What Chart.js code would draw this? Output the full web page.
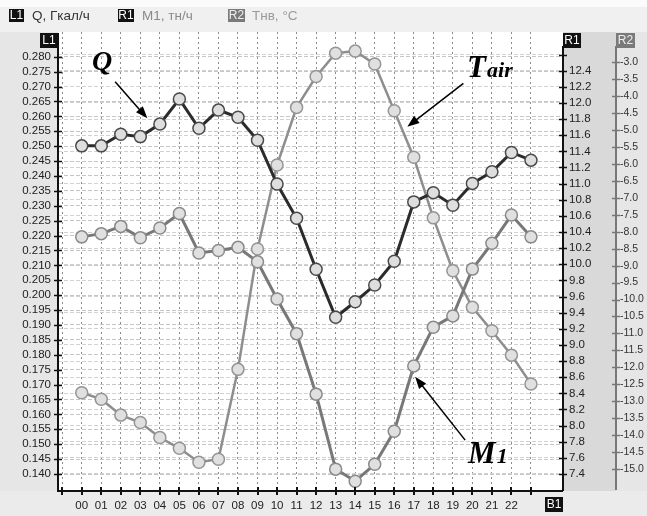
<!DOCTYPE html>
<html>
<head>
<meta charset="utf-8">
<title>Q, M1, Тнв</title>
<script src="https://cdn.jsdelivr.net/npm/chart.js@4.4.0/dist/chart.umd.min.js"></script>
<style>
  html, body { margin: 0; padding: 0; background: #ececec; }
  canvas { display: block; }
</style>
</head>
<body>
<canvas id="trendChart" width="647" height="516"></canvas>
<script>
// Hours of the day
const hours = ['00', '01', '02', '03', '04', '05', '06', '07', '08', '09', '10', '11',
               '12', '13', '14', '15', '16', '17', '18', '19', '20', '21', '22', '23'];

// Heat load Q, Gcal/h (axis L1)
const qValues = [0.2501, 0.2501, 0.2540, 0.2532, 0.2574, 0.2658, 0.2560, 0.2621, 0.2597, 0.2520, 0.2373, 0.2258,
                 0.2087, 0.1926, 0.1978, 0.2034, 0.2114, 0.2313, 0.2344, 0.2302, 0.2375, 0.2414, 0.2479, 0.2453];

// Flow M1, t/h (axis R1)
const m1Values = [10.34, 10.38, 10.47, 10.33, 10.45, 10.63, 10.14, 10.17, 10.21, 10.03, 9.57, 9.14,
                  8.39, 7.46, 7.31, 7.52, 7.93, 8.74, 9.22, 9.36, 9.94, 10.26, 10.61, 10.34];

// Outdoor air temperature, °C (axis R2)
const tairValues = [-12.75, -12.94, -13.41, -13.63, -14.07, -14.39, -14.80, -14.71, -12.06, -8.51, -6.03, -4.33,
                    -3.42, -2.73, -2.67, -3.05, -4.43, -5.80, -7.59, -9.15, -10.23, -10.92, -11.64, -12.49];

// Tick values for the value axes
const l1Ticks = [0.140, 0.145, 0.150, 0.155, 0.160, 0.165, 0.170, 0.175, 0.180, 0.185, 0.190, 0.195, 0.200, 0.205, 0.210,
                 0.215, 0.220, 0.225, 0.230, 0.235, 0.240, 0.245, 0.250, 0.255, 0.260, 0.265, 0.270, 0.275, 0.280];
const r1Ticks = [7.4, 7.6, 7.8, 8.0, 8.2, 8.4, 8.6, 8.8, 9.0, 9.2, 9.4, 9.6, 9.8, 10.0,
                 10.2, 10.4, 10.6, 10.8, 11.0, 11.2, 11.4, 11.6, 11.8, 12.0, 12.2, 12.4, 12.6];
const r2Ticks = [-15.0, -14.5, -14.0, -13.5, -13.0, -12.5, -12.0, -11.5, -11.0, -10.5, -10.0, -9.5, -9.0,
                 -8.5, -8.0, -7.5, -7.0, -6.5, -6.0, -5.5, -5.0, -4.5, -4.0, -3.5, -3.0];
const xTicks = [-1, 0, 1, 2, 3, 4, 5, 6, 7, 8, 9, 10, 11, 12, 13, 14, 15, 16, 17, 18, 19, 20, 21, 22, 23];

const FONT = '"Liberation Sans", Arial, sans-serif';
const SERIF = '"Liberation Serif", "Times New Roman", serif';

function points(values) {
    return values.map((v, i) => ({ x: i, y: v }));
}

function setTicks(list) {
    return scale => { scale.ticks = list.map(v => ({ value: v })); };
}

// Draw a line with a filled arrow head at (x2, y2)
function arrow(ctx, x1, y1, x2, y2) {
    const ang = Math.atan2(y2 - y1, x2 - x1);
    const len = 12, half = 4.5;
    ctx.beginPath();
    ctx.moveTo(x1, y1);
    ctx.lineTo(x2 - Math.cos(ang) * len * 0.8, y2 - Math.sin(ang) * len * 0.8);
    ctx.stroke();
    ctx.beginPath();
    ctx.moveTo(x2, y2);
    ctx.lineTo(x2 - Math.cos(ang) * len - Math.sin(ang) * half, y2 - Math.sin(ang) * len + Math.cos(ang) * half);
    ctx.lineTo(x2 - Math.cos(ang) * len + Math.sin(ang) * half, y2 - Math.sin(ang) * len - Math.cos(ang) * half);
    ctx.closePath();
    ctx.fill();
}

// Small tag like "L1" / "R1"
function tag(ctx, text, x, y, w, h, bg, fg) {
    ctx.fillStyle = bg;
    ctx.fillRect(x, y, w, h);
    ctx.fillStyle = fg;
    ctx.font = '12px ' + FONT;
    ctx.textAlign = 'center';
    ctx.textBaseline = 'middle';
    ctx.fillText(text, x + w / 2, y + h / 2 + 0.5);
}

// Labels in the chart area: name + arrow, placed in hour / L1 units
const notes = [
    { parts: [['Q', 28]], at: [0.53, 0.2755], from: [1.71, 0.27161], to: [3.36, 0.25933] },
    { parts: [['T', 31], ['air', 22]], at: [19.73, 0.27319], from: [19.54, 0.27107], to: [16.67, 0.25651] },
    { parts: [['M', 31], ['1', 22]], at: [19.78, 0.14366], from: [19.63, 0.15138], to: [17.07, 0.17262] }
];

const panels = {
    id: 'panels',
    beforeDraw(chart) {
        const { ctx, chartArea: a, width, height } = chart;
        const r2 = chart.scales.r2;
        ctx.save();
        ctx.fillStyle = '#ebebeb';
        ctx.fillRect(0, 0, width, height);
        ctx.fillStyle = '#fbfbfb';
        ctx.fillRect(0, 0, width, 7);
        ctx.fillStyle = '#f0f0f0';
        ctx.fillRect(0, 7, width, a.top - 7);
        ctx.fillStyle = '#e6e6e6';
        ctx.fillRect(0, a.top, a.left, a.bottom - a.top);
        ctx.fillRect(r2.left, a.top, width - r2.left, a.bottom - a.top);
        ctx.fillStyle = '#d9d9d9';
        ctx.fillRect(a.right, a.top, r2.left - a.right, a.bottom - a.top);
        ctx.fillStyle = '#ffffff';
        ctx.fillRect(a.left, a.top, a.right - a.left, a.bottom - a.top);
        ctx.restore();
    },
    afterDraw(chart) {
        const { ctx, chartArea: a } = chart;
        const { x, l1, r1, r2 } = chart.scales;
        ctx.save();

        // axis lines
        ctx.lineWidth = 2;
        ctx.strokeStyle = '#111';
        ctx.beginPath();
        ctx.moveTo(a.left, a.top + 1); ctx.lineTo(a.left, a.bottom);
        ctx.lineTo(a.right, a.bottom);
        ctx.moveTo(a.right, a.top + 14); ctx.lineTo(a.right, a.bottom);
        ctx.stroke();
        ctx.strokeStyle = '#777';
        ctx.beginPath();
        ctx.moveTo(r2.left, a.top + 14); ctx.lineTo(r2.left, a.bottom - 1);
        ctx.stroke();

        // tick marks crossing the axes
        ctx.lineWidth = 1.5;
        ctx.strokeStyle = '#111';
        ctx.beginPath();
        l1.ticks.forEach(t => {
            const y = Math.round(l1.getPixelForValue(t.value)) + 0.5;
            ctx.moveTo(a.left - 4, y); ctx.lineTo(a.left + 4, y);
        });
        r1.ticks.forEach(t => {
            const y = Math.round(r1.getPixelForValue(t.value)) + 0.5;
            ctx.moveTo(a.right - 4, y); ctx.lineTo(a.right + 4, y);
        });
        ctx.stroke();
        ctx.strokeStyle = '#777';
        ctx.beginPath();
        r2.ticks.forEach(t => {
            const y = Math.round(r2.getPixelForValue(t.value)) + 0.5;
            ctx.moveTo(r2.left - 4, y); ctx.lineTo(r2.left + 4, y);
        });
        ctx.stroke();
        ctx.lineWidth = 2;
        ctx.strokeStyle = '#111';
        ctx.beginPath();
        x.ticks.forEach(t => {
            const px = Math.round(x.getPixelForValue(t.value));
            ctx.moveTo(px, a.bottom - 4); ctx.lineTo(px, a.bottom + 4);
        });
        ctx.stroke();

        // axis tags
        tag(ctx, 'L1', a.left - 18, a.top + 1, 18, 15, '#111', '#fff');
        tag(ctx, 'R1', a.right, a.top + 1, 18, 15, '#111', '#fff');
        tag(ctx, 'R2', r2.left, a.top + 1, 19, 15, '#7a7a7a', '#eee');
        tag(ctx, 'B1', a.right - 18, a.bottom + 6, 18, 15, '#111', '#fff');

        // legend row
        tag(ctx, 'L1', 9, 9, 15, 13, '#111', '#fff');
        tag(ctx, 'R1', 118, 9, 16, 13, '#111', '#fff');
        tag(ctx, 'R2', 228, 9, 17, 13, '#7a7a7a', '#eee');
        ctx.font = '13.5px ' + FONT;
        ctx.textAlign = 'left';
        ctx.textBaseline = 'middle';
        ctx.fillStyle = '#333';
        ctx.fillText('Q, Гкал/ч', 32, 16);
        ctx.fillStyle = '#8a8a8a';
        ctx.fillText('M1, тн/ч', 142, 16);
        ctx.fillStyle = '#9a9a9a';
        ctx.fillText('Тнв, °C', 252, 16);

        // series names with arrows
        ctx.fillStyle = '#000';
        ctx.strokeStyle = '#000';
        ctx.lineWidth = 1.5;
        ctx.textBaseline = 'alphabetic';
        notes.forEach(n => {
            let tx = x.getPixelForValue(n.at[0]);
            const ty = l1.getPixelForValue(n.at[1]);
            n.parts.forEach(([s, size]) => {
                ctx.font = 'bold italic ' + size + 'px ' + SERIF;
                ctx.fillText(s, tx, ty);
                tx += ctx.measureText(s).width + 1;
            });
            arrow(ctx, x.getPixelForValue(n.from[0]), l1.getPixelForValue(n.from[1]),
                  x.getPixelForValue(n.to[0]), l1.getPixelForValue(n.to[1]));
        });

        ctx.restore();
    }
};

const tickFont = { family: FONT, size: 11.5 };

const chart = new Chart(document.getElementById('trendChart'), {
    type: 'line',
    data: {
        datasets: [
            {
                label: 'Q, Гкал/ч',
                data: points(qValues),
                yAxisID: 'l1',
                borderColor: '#2b2b2b',
                borderWidth: 3,
                pointRadius: 6,
                pointBorderWidth: 1.5,
                pointBackgroundColor: '#dedede',
                pointBorderColor: '#4a4a4a'
            },
            {
                label: 'M1, тн/ч',
                data: points(m1Values),
                yAxisID: 'r1',
                borderColor: '#787878',
                borderWidth: 3,
                pointRadius: 6,
                pointBorderWidth: 1.5,
                pointBackgroundColor: '#e0e0e0',
                pointBorderColor: '#8a8a8a'
            },
            {
                label: 'Тнв, °C',
                data: points(tairValues),
                yAxisID: 'r2',
                borderColor: '#8e8e8e',
                borderWidth: 2.5,
                pointRadius: 6,
                pointBorderWidth: 1.5,
                pointBackgroundColor: '#e0e0e0',
                pointBorderColor: '#959595'
            }
        ]
    },
    options: {
        responsive: false,
        animation: false,
        layout: { padding: { top: 32, left: 0, right: 0, bottom: 0 } },
        plugins: { legend: { display: false }, tooltip: { enabled: false } },
        elements: { line: { tension: 0 } },
        scales: {
            x: {
                type: 'linear',
                min: -1.215,
                max: 24.64,
                afterBuildTicks: setTicks(xTicks),
                afterFit: s => { s.height = 25; },
                grid: { color: '#8c8c8c', lineWidth: 1, drawTicks: false },
                border: { display: false, dash: [2, 3] },
                ticks: {
                    autoSkip: false,
                    maxRotation: 0,
                    padding: 8,
                    color: '#222',
                    font: tickFont,
                    // the last hour sits under the B1 tag and stays unlabelled
                    callback: v => (v >= 0 && v < 23 ? hours[v] : '')
                }
            },
            l1: {
                position: 'left',
                min: 0.1343,
                max: 0.2883,
                afterBuildTicks: setTicks(l1Ticks),
                afterFit: s => { s.width = 58; },
                grid: { color: '#c6c6c6', lineWidth: 1, drawTicks: false },
                border: { display: false, dash: [4, 2] },
                ticks: { autoSkip: false, padding: 7, color: '#222', font: tickFont, callback: v => v.toFixed(3) }
            },
            r1: {
                position: 'right',
                min: 7.189,
                max: 12.88,
                afterBuildTicks: setTicks(r1Ticks),
                afterFit: s => { s.width = 53; },
                grid: { color: '#d2d2d2', lineWidth: 1, drawTicks: false },
                border: { display: false, dash: [4, 2] },
                ticks: { autoSkip: false, padding: 6, color: '#222', font: tickFont,
                         callback: v => (v > 12.5 ? '' : v.toFixed(1)) }
            },
            r2: {
                position: 'right',
                min: -15.649,
                max: -2.106,
                afterBuildTicks: setTicks(r2Ticks),
                afterFit: s => { s.width = 31; },
                grid: { display: false, drawTicks: false },
                border: { display: false },
                ticks: { autoSkip: false, padding: 4, color: '#333', font: { family: FONT, size: 10.5 },
                         callback: v => v.toFixed(1) }
            }
        }
    },
    plugins: [panels]
});
</script>
</body>
</html>
